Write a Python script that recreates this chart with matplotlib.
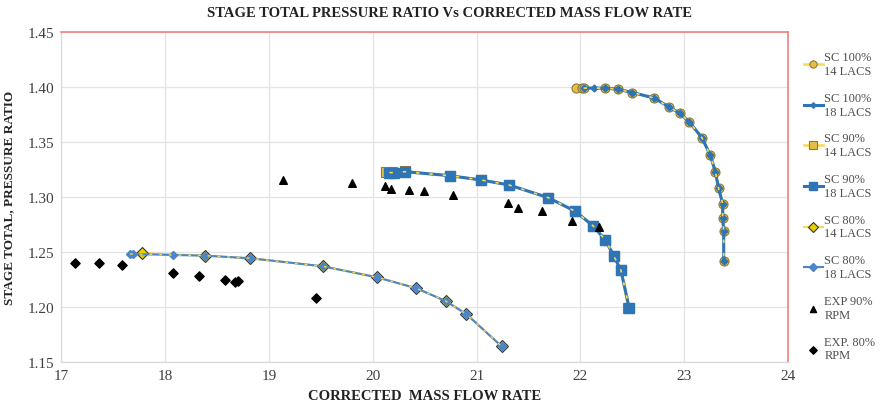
import matplotlib
matplotlib.use("Agg")
import matplotlib.pyplot as plt

plt.rcParams["font.family"] = ["Liberation Serif", "DejaVu Serif"]

# SC 100% rpm
x100_14 = [21.96, 22.01, 22.03, 22.24, 22.36, 22.50, 22.71, 22.85, 22.96, 23.05, 23.17, 23.25, 23.30, 23.33, 23.37, 23.37, 23.38, 23.38]
y100_14 = [1.399, 1.399, 1.399, 1.399, 1.398, 1.395, 1.390, 1.382, 1.376, 1.368, 1.354, 1.338, 1.323, 1.308, 1.294, 1.281, 1.269, 1.242]
x100_18 = [22.03, 22.13, 22.24, 22.36, 22.50, 22.71, 22.85, 22.96, 23.05, 23.17, 23.25, 23.30, 23.33, 23.37, 23.37, 23.38, 23.38]
y100_18 = [1.399, 1.399, 1.399, 1.398, 1.395, 1.390, 1.382, 1.376, 1.368, 1.354, 1.338, 1.323, 1.308, 1.294, 1.281, 1.269, 1.242]

# SC 90% rpm
x90_14 = [20.13, 20.18, 20.31, 20.74, 21.04, 21.31, 21.69, 21.95, 22.12, 22.24, 22.32, 22.39, 22.46]
y90_14 = [1.3225, 1.3225, 1.3234, 1.3194, 1.3155, 1.311, 1.2994, 1.287, 1.2739, 1.2609, 1.2467, 1.2333, 1.1994]
x90_18 = [20.16, 20.20, 20.31, 20.74, 21.04, 21.31, 21.69, 21.95, 22.12, 22.24, 22.32, 22.39, 22.47]
y90_18 = [1.3222, 1.3222, 1.3230, 1.3194, 1.3155, 1.311, 1.2994, 1.287, 1.2739, 1.2609, 1.2467, 1.2333, 1.1990]

# SC 80% rpm
x80_14 = [17.78, 18.38, 18.82, 19.52, 20.04, 20.42, 20.70, 20.90, 21.24]
y80_14 = [1.2488, 1.2467, 1.2443, 1.237, 1.227, 1.217, 1.2055, 1.1936, 1.1643]
x80_18 = [17.66, 17.69, 18.07, 18.38, 18.82, 19.52, 20.04, 20.42, 20.70, 20.90, 21.24]
y80_18 = [1.2482, 1.2482, 1.2473, 1.2467, 1.2443, 1.237, 1.227, 1.217, 1.2055, 1.1936, 1.1643]

# experiments
x_exp90 = [19.13, 19.80, 20.12, 20.17, 20.35, 20.49, 20.77, 21.30, 21.40, 21.63, 21.92, 22.18]
y_exp90 = [1.3155, 1.3124, 1.310, 1.3076, 1.3067, 1.3057, 1.3018, 1.2943, 1.2897, 1.2876, 1.2779, 1.2724]
x_exp80 = [17.13, 17.36, 17.58, 18.07, 18.32, 18.58, 18.67, 18.70, 19.45]
y_exp80 = [1.240, 1.2397, 1.2382, 1.2312, 1.2282, 1.2243, 1.2225, 1.2234, 1.2079]

yellow = "#FFD54F"
gold = "#E3BF45"
blue = "#2E75B6"

fig = plt.figure(figsize=(8.81, 4.10), dpi=100)
ax = fig.add_axes([0.0698, 0.1146, 0.8247, 0.8049])

# 100%
ax.plot(x100_14, y100_14, color=yellow, lw=1.8, marker="o", ms=6.5, mfc=gold, mec="#8C7A3A", mew=0.8,
        zorder=3, label="SC 100%\n14 LACS")
ax.plot(x100_18, y100_18, color=blue, lw=2.2, marker="D", ms=3.5, mfc=blue, mec=blue,
        zorder=4, label="SC 100%\n18 LACS")
ax.plot(x100_18, y100_18, color=yellow, lw=1.2, ls=(0, (2, 6)), zorder=4.5)

# 90%
ax.plot(x90_14, y90_14, color=yellow, lw=1.8, marker="s", ms=7, mfc=gold, mec="#8C7A3A", mew=0.8,
        zorder=3, label="SC 90%\n14 LACS")
ax.plot(x90_18, y90_18, color=blue, lw=2.2, marker="s", ms=6.5, mfc=blue, mec=blue,
        zorder=4, label="SC 90%\n18 LACS")
ax.plot(x90_18, y90_18, color=yellow, lw=1.2, ls=(0, (2, 6)), zorder=4.5)

# 80%
ax.plot(x80_14, y80_14, color=yellow, lw=1.5, marker="D", ms=6, mfc="#E8D000", mec="#333333", mew=0.8,
        zorder=3, label="SC 80%\n14 LACS")
ax.plot(x80_18, y80_18, color="#4A86C8", lw=1.5, marker="D", ms=4.5, mfc="#4A86C8", mec="#4A86C8",
        zorder=4, label="SC 80%\n18 LACS")
ax.plot(x80_18, y80_18, color=yellow, lw=1.0, ls=(0, (2, 5)), zorder=4.5)

# experiments
ax.scatter(x_exp90, y_exp90, marker="^", s=30, color="black", zorder=5, label="EXP 90%\nRPM")
ax.scatter(x_exp80, y_exp80, marker="D", s=22, color="black", zorder=5, label="EXP. 80%\nRPM")

ax.set_xlim(17, 24)
ax.set_ylim(1.15, 1.45)
ax.set_xticks(range(17, 25))
ax.set_yticks([1.15, 1.20, 1.25, 1.30, 1.35, 1.40, 1.45])
ax.set_yticklabels(["1.15", "1.20", "1.25", "1.30", "1.35", "1.40", "1.45"])
ax.grid(True, color="#E3E3E3", lw=0.9)
ax.set_axisbelow(True)
ax.tick_params(length=0, labelsize=11, colors="#404040", pad=5)

for s in ["top", "right"]:
    ax.spines[s].set_color("#F08080")
    ax.spines[s].set_linewidth(1.2)
for s in ["left", "bottom"]:
    ax.spines[s].set_color("#D9D9D9")
    ax.spines[s].set_linewidth(0.9)

fig.suptitle("STAGE TOTAL PRESSURE RATIO Vs CORRECTED MASS FLOW RATE", x=0.51, y=0.982,
             fontsize=10.5, fontweight="bold", color="#222222")
ax.set_xlabel("CORRECTED  MASS FLOW RATE", fontsize=10.5, fontweight="bold", color="#222222", labelpad=5)
ax.set_ylabel("STAGE TOTAL, PRESSURE RATIO", fontsize=9.5, fontweight="bold", color="#222222", labelpad=9)

leg = fig.legend(loc="upper left", bbox_to_anchor=(0.9, 0.9), frameon=False, fontsize=8.9,
                 handlelength=1.5, handletextpad=0.15, labelspacing=1.2, labelcolor="#505050",
                 markerscale=0.8)

fig.savefig("out.png", dpi=100)
